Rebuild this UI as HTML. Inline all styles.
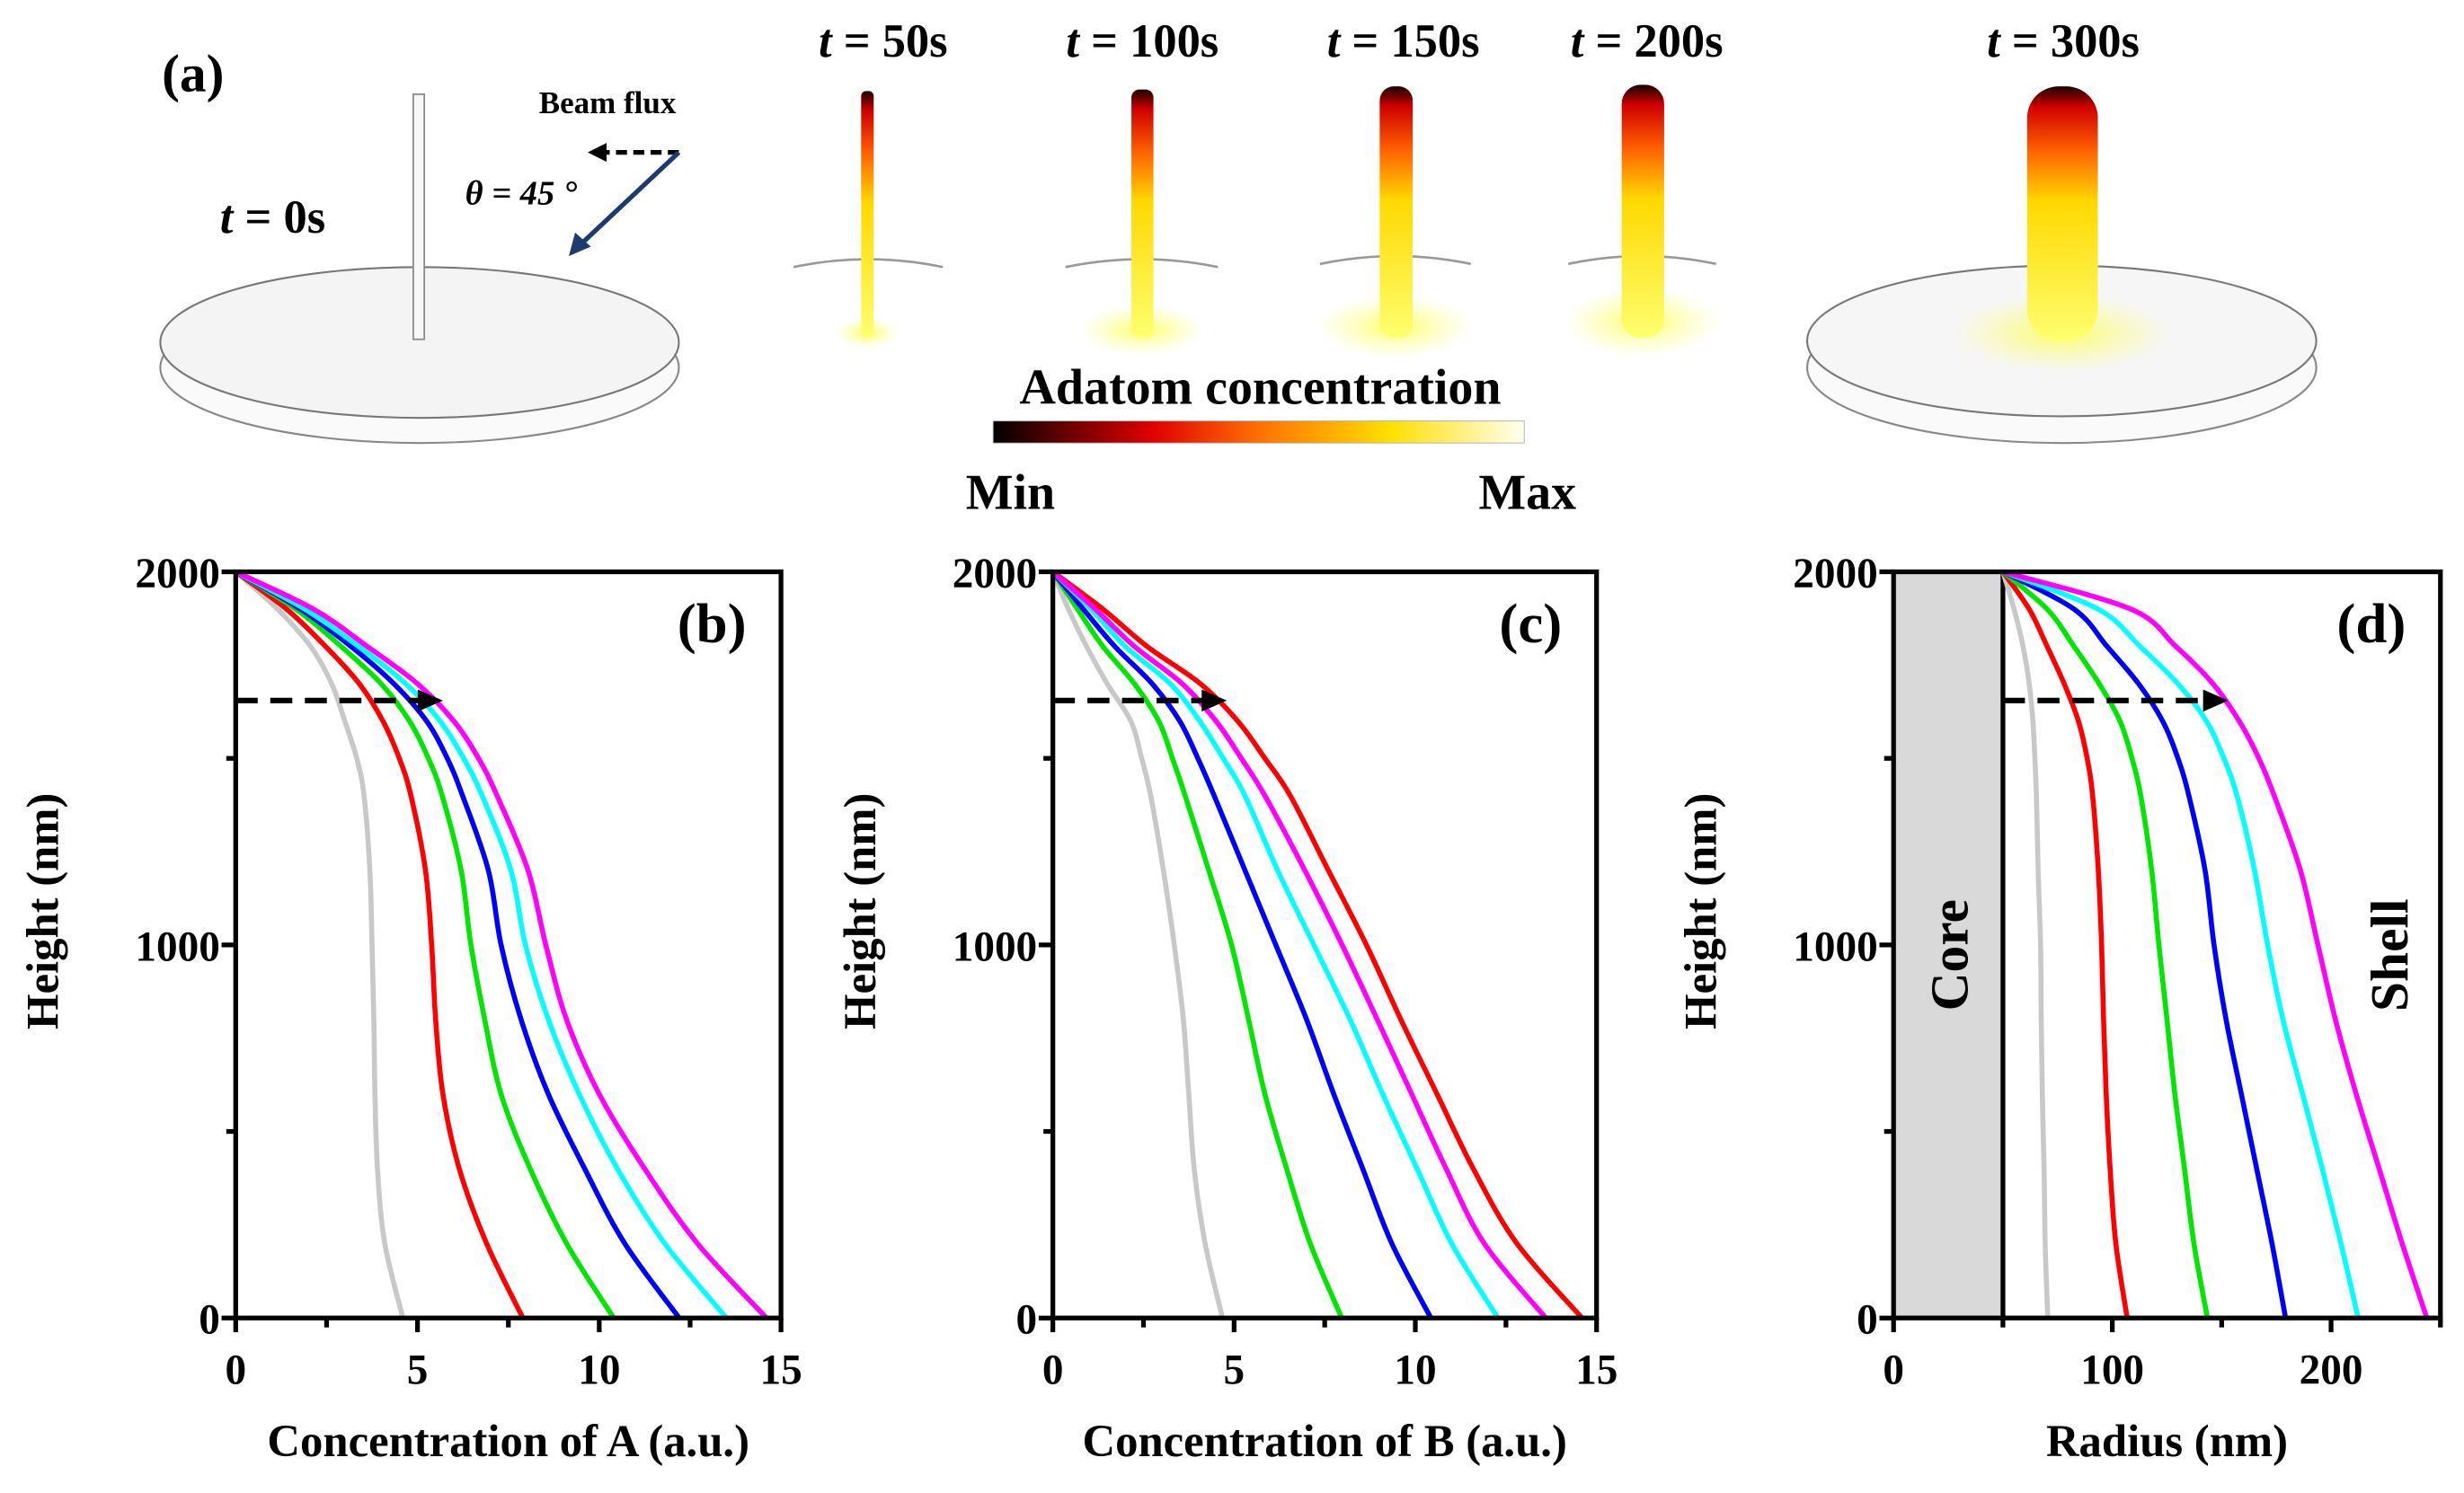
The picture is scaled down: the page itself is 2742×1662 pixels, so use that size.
<!DOCTYPE html>
<html><head><meta charset="utf-8"><style>
html,body{margin:0;padding:0;background:#fff;}
svg{display:block;}
svg text{font-family:"Liberation Serif","Times New Roman","DejaVu Serif",serif;font-weight:bold;fill:#000;}
</style></head><body>
<svg id="fig" width="2742" height="1662" viewBox="0 0 1568 950.4" preserveAspectRatio="none" font-family="Liberation Serif, serif" xmlns="http://www.w3.org/2000/svg">
<defs>
<linearGradient id="wireG" x1="0" y1="0" x2="0" y2="1">
<stop offset="0" stop-color="#1a0000"/><stop offset="0.08" stop-color="#d00000"/><stop offset="0.25" stop-color="#ff6000"/><stop offset="0.45" stop-color="#ffd800"/><stop offset="1" stop-color="#ffff70"/></linearGradient>
<linearGradient id="cbarG" x1="0" y1="0" x2="1" y2="0">
<stop offset="0" stop-color="#000"/><stop offset="0.3" stop-color="#e00000"/><stop offset="0.5" stop-color="#ff7000"/><stop offset="0.75" stop-color="#ffe000"/><stop offset="1" stop-color="#fffff0"/></linearGradient>
<radialGradient id="glow"><stop offset="0" stop-color="#ffff40" stop-opacity="0.8"/><stop offset="1" stop-color="#ffff80" stop-opacity="0"/></radialGradient>
</defs>
<g id="panelA">
<text x="103" y="58" font-size="34">(a)</text>
<ellipse cx="267" cy="234" rx="165" ry="48" fill="#fafafa" stroke="#888" stroke-width="1.2"/>
<ellipse cx="267" cy="218" rx="165" ry="48" fill="#f4f4f4" stroke="#777" stroke-width="1.2"/>
<rect x="263" y="60" width="7" height="156" fill="#f8f8f8" stroke="#888" stroke-width="1"/>
<text x="140" y="148" font-size="30"><tspan font-style="italic">t</tspan> = 0s</text>
<text x="343" y="72" font-size="20">Beam flux</text>
<line x1="432" y1="97" x2="385" y2="97" stroke="#000" stroke-width="3" stroke-dasharray="7,4"/>
<polygon points="374,97 386,91 386,103" fill="#000"/>
<line x1="432" y1="97" x2="368" y2="157" stroke="#1e3a6e" stroke-width="3"/>
<polygon points="362,163 366,148 376,157" fill="#1e3a6e"/>
<text x="296" y="130" font-size="22" font-style="italic" font-weight="normal">θ = 45 °</text>
<g>
<path d="M505,170 Q552,160 600,170" fill="none" stroke="#999" stroke-width="1.5"/>
<ellipse cx="552" cy="212" rx="20" ry="10" fill="url(#glow)"/>
<rect x="548" y="58" width="8" height="157" rx="3" fill="url(#wireG)"/></g>
<g>
<path d="M678,170 Q727,160 775,170" fill="none" stroke="#999" stroke-width="1.5"/>
<ellipse cx="727" cy="210" rx="40" ry="16" fill="url(#glow)"/>
<rect x="720" y="57" width="14" height="158" rx="5" fill="url(#wireG)"/></g>
<g>
<path d="M840,168 Q888,158 936,168" fill="none" stroke="#999" stroke-width="1.5"/>
<ellipse cx="888" cy="208" rx="50" ry="20" fill="url(#glow)"/>
<rect x="878" y="55" width="21" height="160" rx="9" fill="url(#wireG)"/></g>
<g>
<path d="M998,168 Q1045,158 1092,168" fill="none" stroke="#999" stroke-width="1.5"/>
<ellipse cx="1045" cy="205" rx="50" ry="22" fill="url(#glow)"/>
<rect x="1032" y="54" width="27" height="161" rx="12" fill="url(#wireG)"/></g>
<g>
<ellipse cx="1312" cy="234" rx="162" ry="48" fill="#fafafa" stroke="#888" stroke-width="1.2"/>
<ellipse cx="1312" cy="217" rx="162" ry="48" fill="#f6f6f6" stroke="#777" stroke-width="1.2"/>
<ellipse cx="1312" cy="212" rx="70" ry="25" fill="url(#glow)"/>
<rect x="1290" y="55" width="45" height="162" rx="20" fill="url(#wireG)"/></g>
<text x="562" y="36" font-size="30" text-anchor="middle"><tspan font-style="italic">t</tspan> = 50s</text>
<text x="727" y="36" font-size="30" text-anchor="middle"><tspan font-style="italic">t</tspan> = 100s</text>
<text x="893" y="36" font-size="30" text-anchor="middle"><tspan font-style="italic">t</tspan> = 150s</text>
<text x="1048" y="36" font-size="30" text-anchor="middle"><tspan font-style="italic">t</tspan> = 200s</text>
<text x="1313" y="36" font-size="30" text-anchor="middle"><tspan font-style="italic">t</tspan> = 300s</text>
<text x="802" y="257" font-size="32" text-anchor="middle">Adatom concentration</text>
<rect x="632" y="268" width="338" height="14" fill="url(#cbarG)" stroke="#aaa" stroke-width="0.5"/>
<text x="643" y="324" font-size="32" text-anchor="middle">Min</text>
<text x="972" y="324" font-size="32" text-anchor="middle">Max</text>
</g>
<g id="charts"></g>
</svg>
<script>
const heights = [2000,1900,1800,1700,1600,1500,1400,1200,1000,800,600,400,200,0];
const seriesNames = ['gray','red','green','blue','cyan','magenta'];
const seriesColors = ['#c8c8c8','#ff0000','#00e600','#0000ff','#00ffff','#ff00ff'];
const concA_gray = [0,1.15,2.06,2.64,3.0,3.33,3.53,3.69,3.75,3.8,3.83,3.9,4.1,4.6];
const concA_red = [0,1.4,2.47,3.4,4.05,4.5,4.82,5.22,5.39,5.5,5.7,6.15,6.9,7.9];
const concA_green = [0,1.65,2.9,4.0,4.78,5.3,5.68,6.2,6.47,6.85,7.3,8.1,9.1,10.4];
const concA_blue = [0,1.78,3.17,4.35,5.25,5.82,6.24,6.95,7.3,7.85,8.6,9.6,10.7,12.2];
const concA_cyan = [0,1.9,3.38,4.68,5.62,6.27,6.78,7.57,7.97,8.6,9.45,10.5,11.8,13.5];
const concA_magenta = [0,2.14,3.62,5.0,6.0,6.68,7.19,8.04,8.53,9.1,10.0,11.25,12.7,14.6];
const concB_gray = [0,0.43,0.93,1.5,2.15,2.45,2.7,3.05,3.35,3.6,3.75,3.9,4.2,4.68];
const concB_green = [0,0.68,1.38,2.25,2.92,3.3,3.65,4.3,4.93,5.4,5.85,6.45,7.1,7.97];
const concB_blue = [0,0.84,1.71,2.74,3.5,4.0,4.45,5.3,6.15,7.0,7.75,8.55,9.35,10.43];
const concB_cyan = [0,1.05,2.0,3.24,4.05,4.7,5.3,6.2,7.2,8.2,9.1,10.05,11.0,12.28];
const concB_magenta = [0,1.17,2.25,3.57,4.5,5.2,5.85,6.95,7.98,8.95,9.9,10.85,11.9,13.6];
const concB_red = [0,1.38,2.6,4.07,5.1,5.85,6.55,7.6,8.65,9.6,10.6,11.6,12.8,14.6];
const radius_gray = [50,55.1,59.2,62,63.7,64.6,65.3,66.1,67.2,67.5,68,68.8,69.3,70.5];
const radius_red = [50,62,70.2,78,84.5,88.5,91,93.6,95.1,96,97.2,99,101.6,106.8];
const radius_green = [50,70.2,82.5,94,103.5,109,113,118,121.3,125,128.6,133,137.3,143.5];
const radius_blue = [50,82.5,97.6,112,123,130,135,142.4,146.5,152,159,166,173,179.2];
const radius_cyan = [50,93.5,112.7,130,143,151,157,165,171,178,187,196,204.5,212.4];
const radius_magenta = [50,108.5,129,146,158,167,174,186,194,202,211.5,222,232.5,243.8];
const concTicks = [0,5,10,15];
const radiusTicks = [0,100,200];
const heightTicks = [0,1000,2000];
const arrowEnds = [5.7,4.8,153];
const arrowHeight = 1655;

const NS='http://www.w3.org/2000/svg';
const root=document.getElementById('charts');
function mk(tag,attrs,parent){const e=document.createElementNS(NS,tag);for(const k in attrs)e.setAttribute(k,attrs[k]);(parent||root).appendChild(e);return e;}
function smooth(pts){let d='M'+pts[0][0]+','+pts[0][1];for(let i=0;i<pts.length-1;i++){const p0=pts[Math.max(i-1,0)],p1=pts[i],p2=pts[i+1],p3=pts[Math.min(i+2,pts.length-1)];const t=6;d+=' C'+(p1[0]+(p2[0]-p0[0])/t)+','+(p1[1]+(p2[1]-p0[1])/t)+' '+(p2[0]-(p3[0]-p1[0])/t)+','+(p2[1]-(p3[1]-p1[1])/t)+' '+p2[0]+','+p2[1];}return d;}

const panels=[
 {key:'b',x0:150,x1:497,xmax:15,ticks:concTicks,minor:[2.5,7.5,12.5],title:'Concentration of A (a.u.)',series:[concA_gray,concA_red,concA_green,concA_blue,concA_cyan,concA_magenta],arrowStart:0,arrowEnd:arrowEnds[0]},
 {key:'c',x0:670,x1:1016,xmax:15,ticks:concTicks,minor:[2.5,7.5,12.5],title:'Concentration of B (a.u.)',series:[concB_gray,concB_red,concB_green,concB_blue,concB_cyan,concB_magenta],arrowStart:0,arrowEnd:arrowEnds[1]},
 {key:'d',x0:1205,x1:1553,xmax:250,ticks:radiusTicks,minor:[50,150,250],title:'Radius (nm)',series:[radius_gray,radius_red,radius_green,radius_blue,radius_cyan,radius_magenta],arrowStart:50,arrowEnd:arrowEnds[2]}
];
const yTop=364,yBot=839;
panels.forEach(p=>{
 const g=mk('g',{});
 
 
 const sx=v=>p.x0+(p.x1-p.x0)*v/p.xmax;
 const sy=h=>yBot-(yBot-yTop)*h/2000;
 if(p.key==='d'){
  const core=mk('rect',{x:sx(0),y:yTop,width:sx(50)-sx(0),height:yBot-yTop,fill:'#d9d9d9'},g);
  
  
  mk('line',{x1:sx(50),y1:yTop,x2:sx(50),y2:yBot,stroke:'#000','stroke-width':3},g);
  const ct=mk('text',{x:0,y:0,'font-size':34,'text-anchor':'middle',transform:'translate(1252,608) rotate(-90)'},g);ct.textContent='Core';
  
  
  const st=mk('text',{x:0,y:0,'font-size':34,'text-anchor':'middle',transform:'translate(1532,608) rotate(-90)'},g);st.textContent='Shell';
  
  
 }
 p.series.forEach((s,i)=>{
  const pts=s.map((v,j)=>[sx(v),sy(heights[j])]);
  const path=mk('path',{d:smooth(pts),fill:'none',stroke:seriesColors[i],'stroke-width':3.2,'stroke-linejoin':'round'},g);
  
  
 });
 const ax1=sx(p.arrowStart),ax2=sx(p.arrowEnd),ay=sy(arrowHeight);
 const arr=mk('line',{x1:ax1,y1:ay,x2:ax2-12,y2:ay,stroke:'#000','stroke-width':3.5,'stroke-dasharray':'14,8'},g);
 
 
 mk('polygon',{points:(ax2)+','+ay+' '+(ax2-16)+','+(ay-7)+' '+(ax2-16)+','+(ay+7),fill:'#000'},g);
 const fr=mk('rect',{x:p.x0,y:yTop,width:p.x1-p.x0,height:yBot-yTop,fill:'none',stroke:'#000','stroke-width':3},g);
 
 
 p.ticks.forEach(t=>{
  mk('line',{x1:sx(t),y1:yBot,x2:sx(t),y2:yBot+9,stroke:'#000','stroke-width':3},g);
  const tl=mk('text',{x:sx(t),y:yBot+42,'font-size':27,'text-anchor':'middle'},g);tl.textContent=t;
  
  
 });
 p.minor.forEach(t=>mk('line',{x1:sx(t),y1:yBot,x2:sx(t),y2:yBot+6,stroke:'#000','stroke-width':3},g));
 heightTicks.forEach(t=>{
  mk('line',{x1:p.x0-9,y1:sy(t),x2:p.x0,y2:sy(t),stroke:'#000','stroke-width':3},g);
  const tl=mk('text',{x:p.x0-10,y:sy(t)+10,'font-size':27,'text-anchor':'end'},g);tl.textContent=t;
  
  
 });
 [500,1500].forEach(t=>mk('line',{x1:p.x0-6,y1:sy(t),x2:p.x0,y2:sy(t),stroke:'#000','stroke-width':3},g));
 const xt=mk('text',{x:(p.x0+p.x1)/2,y:927,'font-size':29,'text-anchor':'middle'},g);xt.textContent=p.title;
 
 
 const yt=mk('text',{x:0,y:0,'font-size':29,'text-anchor':'middle',transform:'translate('+(p.x0-113)+',580) rotate(-90)'},g);yt.textContent='Height (nm)';
 
 
 const pl=mk('text',{x:p.x1-22,y:409,'font-size':36,'text-anchor':'end'},g);pl.textContent='('+p.key+')';
 
 
});
</script>
</body></html>
